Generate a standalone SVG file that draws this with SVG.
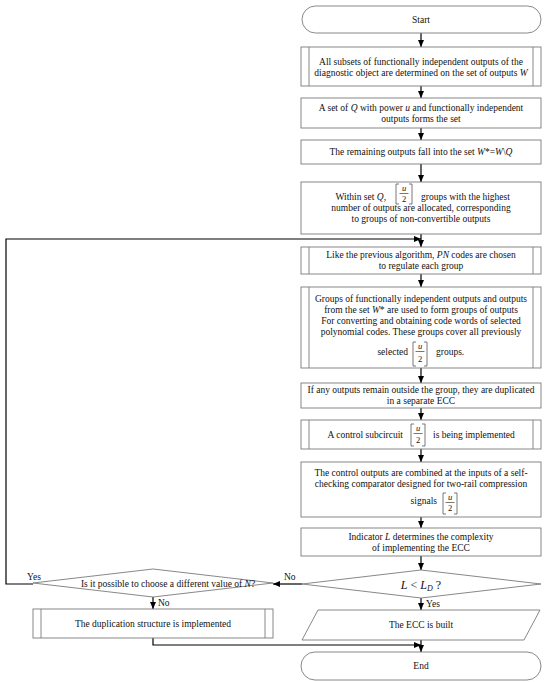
<svg xmlns="http://www.w3.org/2000/svg" width="550" height="682" viewBox="0 0 550 682">
<style>
.box{fill:#fff;stroke:#7a7a7a;stroke-width:0.9}
.conn{fill:none;stroke:#000;stroke-width:1.2}
.br{fill:none;stroke:#555;stroke-width:0.8}
.t{font-family:"Liberation Serif","Times New Roman",serif;font-size:9.5px;fill:#111;text-anchor:middle}
.fr{font-family:"Liberation Serif","Times New Roman",serif;font-size:8.5px;fill:#111;text-anchor:middle}
.s{text-anchor:start}
.e{text-anchor:end}
.i{font-style:italic}
</style>
<defs>
<marker id="ah" markerWidth="7" markerHeight="6" refX="7" refY="3" orient="auto" markerUnits="userSpaceOnUse">
<path d="M0,0 L7,3 L0,6 z" fill="#000"/>
</marker>
</defs>
<rect width="550" height="682" fill="#fff"/>

<g id="connectors">
<line class="conn" x1="421" y1="33" x2="421" y2="47" marker-end="url(#ah)"/>
<line class="conn" x1="421" y1="86" x2="421" y2="98" marker-end="url(#ah)"/>
<line class="conn" x1="421" y1="128" x2="421" y2="140" marker-end="url(#ah)"/>
<line class="conn" x1="421" y1="164" x2="421" y2="182" marker-end="url(#ah)"/>
<line class="conn" x1="421" y1="234" x2="421" y2="247" marker-end="url(#ah)"/>
<line class="conn" x1="421" y1="274" x2="421" y2="287" marker-end="url(#ah)"/>
<line class="conn" x1="421" y1="368" x2="421" y2="383" marker-end="url(#ah)"/>
<line class="conn" x1="421" y1="408" x2="421" y2="420" marker-end="url(#ah)"/>
<line class="conn" x1="421" y1="449" x2="421" y2="462" marker-end="url(#ah)"/>
<line class="conn" x1="421" y1="517" x2="421" y2="528" marker-end="url(#ah)"/>
<line class="conn" x1="421" y1="556" x2="421" y2="570" marker-end="url(#ah)"/>
<line class="conn" x1="421" y1="598" x2="421" y2="610" marker-end="url(#ah)"/>
<line class="conn" x1="421" y1="640" x2="421" y2="652" marker-end="url(#ah)"/>
<line class="conn" x1="302" y1="584" x2="273" y2="584" marker-end="url(#ah)"/>
<polyline class="conn" points="33,584 6,584 6,239 421,239" marker-end="url(#ah)"/>
<line class="conn" x1="153" y1="597" x2="153" y2="609" marker-end="url(#ah)"/>
<polyline class="conn" points="153,638 153,645 421,645" marker-end="url(#ah)"/>
<text class="t s" x="284" y="580">No</text>
<text class="t s" x="27" y="580">Yes</text>
<text class="t s" x="158" y="606">No</text>
<text class="t s" x="426" y="607">Yes</text>
</g>

<g id="start">
<rect class="box" x="302" y="6" width="239" height="27" rx="13.5"/>
<text class="t" x="421" y="22.5">Start</text>
</g>

<g id="subsets">
<rect class="box" x="301" y="47" width="240" height="39"/>
<line class="box" x1="309" y1="47" x2="309" y2="86"/>
<line class="box" x1="533" y1="47" x2="533" y2="86"/>
<text class="t" x="421" y="64.5">All subsets of functionally independent outputs of the</text>
<text class="t" x="421" y="75.5">diagnostic object are determined on the set of outputs <tspan class="i">W</tspan></text>
</g>

<g id="setQ">
<rect class="box" x="301" y="98" width="240" height="30"/>
<text class="t" x="421" y="110.8">A set of <tspan class="i">Q</tspan> with power <tspan class="i">u</tspan> and functionally independent</text>
<text class="t" x="421" y="121.8">outputs forms the set</text>
</g>

<g id="remaining">
<rect class="box" x="301" y="140" width="240" height="24"/>
<text class="t" x="421" y="155.3">The remaining outputs fall into the set  <tspan class="i">W</tspan>*=<tspan class="i">W</tspan>\<tspan class="i">Q</tspan></text>
</g>

<g id="withinQ">
<rect class="box" x="301" y="182" width="240" height="52"/>
<text class="t e" x="386" y="200.3">Within set <tspan class="i">Q</tspan>,</text>
<path class="br" d="M399,184 H396 V204 H399 M409,184 H412 V204 H409"/>
<text class="fr i" x="404" y="191">u</text>
<line class="br" x1="399.5" y1="193.5" x2="408.5" y2="193.5"/>
<text class="fr" x="404" y="202">2</text>
<text class="t s" x="421" y="200.3">groups with the highest</text>
<text class="t" x="421" y="211.3">number of outputs are allocated, corresponding</text>
<text class="t" x="421" y="222.3">to groups of non-convertible outputs</text>
</g>

<g id="pncodes">
<rect class="box" x="301" y="247" width="240" height="27"/>
<line class="box" x1="309" y1="247" x2="309" y2="274"/>
<line class="box" x1="533" y1="247" x2="533" y2="274"/>
<text class="t" x="421" y="258.3">Like the previous algorithm, <tspan class="i">PN</tspan> codes are chosen</text>
<text class="t" x="421" y="269.3">to regulate each group</text>
</g>

<g id="groups">
<rect class="box" x="301" y="287" width="240" height="81"/>
<line class="box" x1="309" y1="287" x2="309" y2="368"/>
<line class="box" x1="533" y1="287" x2="533" y2="368"/>
<text class="t" x="421" y="302.3">Groups of functionally independent outputs and outputs</text>
<text class="t" x="421" y="313.3">from the set <tspan class="i">W</tspan>* are used to form groups of outputs</text>
<text class="t" x="421" y="324.3">For converting and obtaining code words of selected</text>
<text class="t" x="421" y="335.3">polynomial codes. These groups cover all previously</text>
<text class="t e" x="408" y="355.3">selected</text>
<path class="br" d="M416,342 H413 V366 H416 M424,342 H427 V366 H424"/>
<text class="fr i" x="420" y="349">u</text>
<line class="br" x1="415.5" y1="351.5" x2="424.5" y2="351.5"/>
<text class="fr" x="420" y="362">2</text>
<text class="t s" x="436" y="355.3">groups.</text>
</g>

<g id="duplicated">
<rect class="box" x="301" y="383" width="240" height="25"/>
<text class="t" x="421" y="393.3">If any outputs remain outside the group, they are duplicated</text>
<text class="t" x="421" y="404.3">in a separate ECC</text>
</g>

<g id="subcircuit">
<rect class="box" x="301" y="420" width="240" height="29"/>
<line class="box" x1="309" y1="420" x2="309" y2="449"/>
<line class="box" x1="533" y1="420" x2="533" y2="449"/>
<text class="t e" x="403" y="437.8">A control subcircuit</text>
<path class="br" d="M414,424 H411 V446 H414 M422,424 H425 V446 H422"/>
<text class="fr i" x="418" y="431">u</text>
<line class="br" x1="413.5" y1="433.5" x2="422.5" y2="433.5"/>
<text class="fr" x="418" y="443">2</text>
<text class="t s" x="433" y="437.8">is being implemented</text>
</g>

<g id="comparator">
<rect class="box" x="301" y="462" width="240" height="55"/>
<text class="t" x="421" y="476.3">The control outputs are combined at the inputs of a self-</text>
<text class="t" x="421" y="487.3">checking comparator designed for two-rail compression</text>
<text class="t e" x="437" y="504">signals</text>
<path class="br" d="M446,493 H443 V514 H446 M454,493 H457 V514 H454"/>
<text class="fr i" x="450" y="500">u</text>
<line class="br" x1="445.5" y1="502.5" x2="454.5" y2="502.5"/>
<text class="fr" x="450" y="511">2</text>
</g>

<g id="indicator">
<rect class="box" x="301" y="528" width="240" height="28"/>
<text class="t" x="421" y="539.8">Indicator <tspan class="i">L</tspan> determines the complexity</text>
<text class="t" x="421" y="550.8">of implementing the ECC</text>
</g>

<g id="decisionL">
<polygon class="box" points="421,570 541,584 421,598 302,584"/>
<text class="t" x="421" y="588.5" style="font-size:12px"><tspan class="i">L</tspan> &lt; <tspan class="i">L</tspan><tspan class="i" dy="2.5" style="font-size:8px">D</tspan><tspan dy="-2.5"> ?</tspan></text>
</g>

<g id="decisionN">
<polygon class="box" points="153,569 273,583 153,597 33,583"/>
<text class="t" x="168" y="586.5">Is it possible to choose a different value of <tspan class="i">N</tspan>?</text>
</g>

<g id="duplication">
<rect class="box" x="33" y="609" width="240" height="29"/>
<line class="box" x1="41" y1="609" x2="41" y2="638"/>
<line class="box" x1="265" y1="609" x2="265" y2="638"/>
<text class="t" x="153" y="626.8">The duplication structure is implemented</text>
</g>

<g id="built">
<polygon class="box" points="318,610 540,610 524,640 302,640"/>
<text class="t" x="421" y="628.3">The ECC is built</text>
</g>

<g id="end">
<rect class="box" x="301" y="652" width="240" height="28" rx="14"/>
<text class="t" x="421" y="669.3">End</text>
</g>
</svg>
